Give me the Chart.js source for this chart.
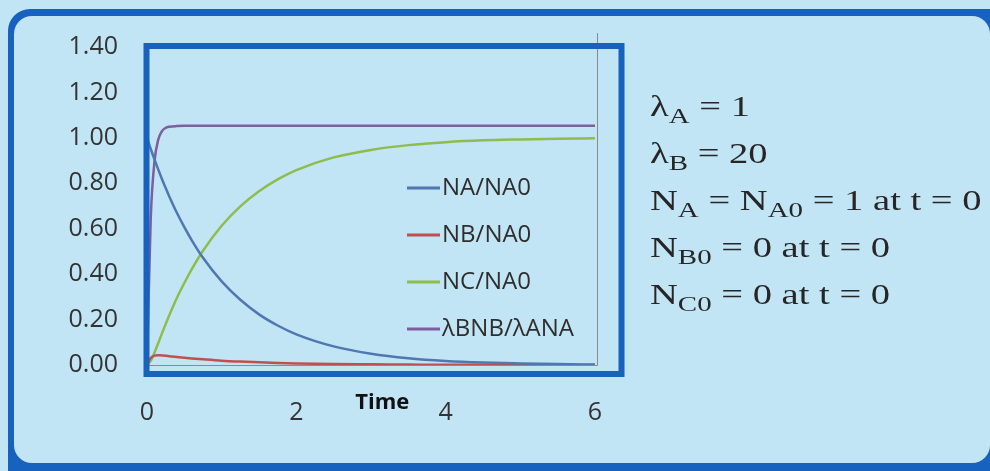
<!DOCTYPE html>
<html>
<head>
<meta charset="utf-8">
<script src="https://cdn.jsdelivr.net/npm/chart.js@4.4.1/dist/chart.umd.min.js"></script>
<style>
  html, body { margin: 0; padding: 0; }
  body { width: 990px; height: 471px; background: #c2e5f6; position: relative; overflow: hidden; }
  #frame { position: absolute; left: 8px; top: 9px; width: 990px; height: 470px; background: #1761bf; border-radius: 22px 0 0 0; }
  #panel { position: absolute; left: 14px; top: 16px; width: 976px; height: 447px; background: #c2e5f6; border-radius: 18px; }
  #chart { position: absolute; left: 0; top: 0; }
  #notes { position: absolute; left: 650px; top: 83px; font-family: "Liberation Serif", "Times New Roman", serif; font-size: 29px; color: #262626; line-height: 47px; transform: scaleX(1.33); transform-origin: 0 0; white-space: nowrap; }
  #notes sub { font-size: 0.75em; vertical-align: -0.3em; line-height: 0; }
</style>
</head>
<body>
<div id="frame"></div>
<div id="panel"></div>
<canvas id="chart" width="990" height="471"></canvas>
<div id="notes">
  <div>&lambda;<sub>A</sub> = 1</div>
  <div>&lambda;<sub>B</sub> = 20</div>
  <div>N<sub>A</sub> = N<sub>A0</sub> = 1 at t = 0</div>
  <div>N<sub>B0</sub> = 0 at t = 0</div>
  <div>N<sub>C0</sub> = 0 at t = 0</div>
</div>
<script>
// values
const time   = [0, 0.05, 0.1, 0.15, 0.2, 0.25, 0.3, 0.4, 0.5, 0.6, 0.75, 1, 1.25, 1.5, 1.75, 2, 2.5, 3, 3.5, 4, 4.5, 5, 5.5, 6];
const naNa0  = [1.000, 0.951, 0.905, 0.861, 0.819, 0.779, 0.741, 0.670, 0.607, 0.549, 0.472, 0.368, 0.287, 0.223, 0.174, 0.135, 0.082, 0.050, 0.030, 0.018, 0.011, 0.007, 0.004, 0.002];
const nbNa0  = [0.000, 0.031, 0.041, 0.043, 0.042, 0.041, 0.039, 0.035, 0.032, 0.029, 0.025, 0.019, 0.015, 0.012, 0.009, 0.007, 0.004, 0.003, 0.002, 0.001, 0.001, 0.000, 0.000, 0.000];
const ncNa0  = [0.000, 0.018, 0.054, 0.096, 0.139, 0.180, 0.220, 0.295, 0.361, 0.422, 0.503, 0.613, 0.698, 0.765, 0.817, 0.858, 0.914, 0.947, 0.968, 0.981, 0.989, 0.993, 0.996, 0.998];
const ratio  = [0.000, 0.645, 0.895, 0.991, 1.029, 1.044, 1.049, 1.052, 1.053, 1.053, 1.053, 1.053, 1.053, 1.053, 1.053, 1.053, 1.053, 1.053, 1.053, 1.053, 1.053, 1.053, 1.053, 1.053];

const seriesNames  = ['NA/NA0', 'NB/NA0', 'NC/NA0', '\u03bbBNB/\u03bbANA'];
const seriesColors = ['#4f77b0', '#c0504d', '#8fbc4f', '#7d5f9e'];
const yTicks = [0, 0.2, 0.4, 0.6, 0.8, 1.0, 1.2, 1.4];
const xTicks = [0, 2, 4, 6];

function toPoints(values){
    return values.map((v, i) => ({x: time[i], y: v}));
}

const series = [naNa0, nbNa0, ncNa0, ratio];
const datasets = series.map((values, i) => ({
    label: seriesNames[i],
    data: toPoints(values),
    borderColor: seriesColors[i],
    backgroundColor: seriesColors[i],
    borderWidth: 2.5,
    pointRadius: 0,
    cubicInterpolationMode: 'monotone',
    fill: false
}));

// legend inside the plot, the grey plot frame, the blue box and the "Time" title
const decorations = {
    id: 'decorations',
    afterDatasetsDraw(chart){
        const ctx = chart.ctx;
        const area = chart.chartArea;
        const xScale = chart.scales.x;
        ctx.save();

        // grey right edge of plot area
        ctx.strokeStyle = '#8a8a8a';
        ctx.lineWidth = 1;
        ctx.beginPath();
        ctx.moveTo(area.right + 2.5, area.top - 14);
        ctx.lineTo(area.right + 2.5, area.bottom + 0.5);
        ctx.lineTo(area.left, area.bottom + 0.5);
        ctx.stroke();

        // legend
        ctx.font = '24px "Open Sans"';
        ctx.textBaseline = 'middle';
        chart.data.datasets.forEach((ds, i) => {
            const y = area.top + 141 + i * 47;
            const x = area.left + 260;
            ctx.strokeStyle = ds.borderColor;
            ctx.lineWidth = 3;
            ctx.beginPath();
            ctx.moveTo(x, y);
            ctx.lineTo(x + 33, y);
            ctx.stroke();
            ctx.fillStyle = '#2e2e2e';
            ctx.fillText(ds.label, x + 35, y);
        });

        // thick blue box
        ctx.strokeStyle = '#1761bf';
        ctx.lineWidth = 6;
        ctx.strokeRect(area.left - 0.5, area.top - 1, area.right - area.left + 27, area.bottom - area.top + 10);

        // axis title
        ctx.fillStyle = '#111111';
        ctx.font = 'bold 22px "Open Sans"';
        ctx.textAlign = 'center';
        ctx.fillText('Time', xScale.getPixelForValue(3.15), area.bottom + 38);
        ctx.restore();
    }
};

new Chart(document.getElementById('chart').getContext('2d'), {
    type: 'line',
    data: {datasets: datasets},
    options: {
        responsive: false,
        animation: false,
        layout: {padding: {left: 68, top: 47, right: 395, bottom: 43}},
        plugins: {legend: {display: false}, tooltip: {enabled: false}},
        scales: {
            x: {
                type: 'linear',
                min: 0,
                max: 6,
                afterBuildTicks: (scale) => { scale.ticks = xTicks.map(v => ({value: v})); },
                afterFit: (scale) => { scale.height = 63; },
                grid: {display: false, drawTicks: false},
                border: {display: false},
                ticks: {padding: 33, color: '#333333', font: {family: 'Open Sans', size: 25}, maxRotation: 0}
            },
            y: {
                min: 0,
                max: 1.4,
                afterBuildTicks: (scale) => { scale.ticks = yTicks.map(v => ({value: v})); },
                afterFit: (scale) => { scale.width = 79; },
                grid: {display: false, drawTicks: false},
                border: {display: false},
                ticks: {padding: 29, color: '#333333', font: {family: 'Open Sans', size: 25}, callback: (v) => Number(v).toFixed(2)}
            }
        }
    },
    plugins: [decorations]
});
</script>
</body>
</html>
